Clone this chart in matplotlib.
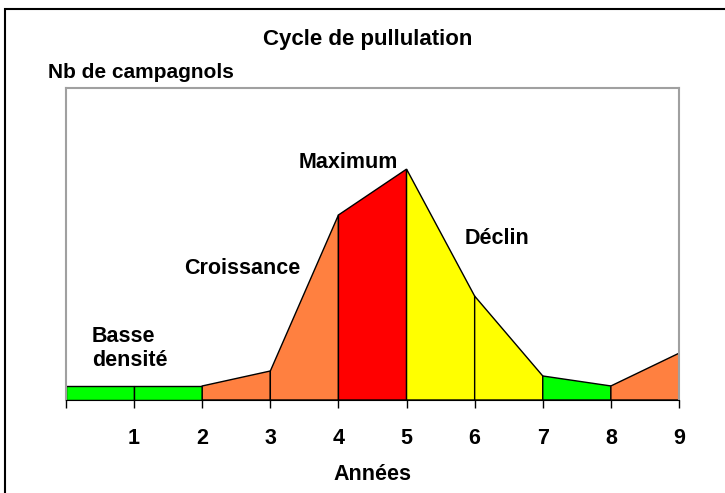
import matplotlib.pyplot as plt
from matplotlib.patches import Rectangle

plt.rcParams['font.family'] = ['Liberation Sans', 'DejaVu Sans']

# values (arbitrary units, axis 0..100)
years = [0, 1, 2, 3, 4, 5, 6, 7, 8, 9]
nb = [4.5, 4.5, 4.5, 9.3, 59.3, 74.0, 33.3, 7.7, 4.5, 15.0]
seg_colors = ['#00FF00', '#00FF00', '#FF8040', '#FF8040', '#FF0000',
              '#FFFF00', '#FFFF00', '#00FF00', '#FF8040']
tick_labels = ['', '1', '2', '3', '4', '5', '6', '7', '8', '9']

W, H = 725, 493
fs = 15.5

fig = plt.figure(figsize=(W / 100, H / 100), dpi=100)
ax = fig.add_axes([66 / W, 1 - 400 / H, 613 / W, 312 / H])

for i in range(len(years) - 1):
    xs = [years[i], years[i], years[i + 1], years[i + 1]]
    ys = [0, nb[i], nb[i + 1], 0]
    ax.fill(xs, ys, facecolor=seg_colors[i], edgecolor='black', linewidth=1)

ax.set_xlim(0, 9)
ax.set_ylim(0, 100)
ax.set_xticks(years)
ax.set_xticklabels(tick_labels, fontsize=fs, fontweight='bold')
ax.tick_params(axis='x', direction='out', length=6, width=1, pad=14)
ax.set_yticks([])
for s in ['left', 'top', 'right']:
    ax.spines[s].set_color('#a0a0a0')
    ax.spines[s].set_linewidth(1.5)
ax.spines['bottom'].set_color('black')


def ftext(px, py, s, size=fs, **kw):
    # place text by pixel position in the figure
    fig.text(px / W, 1 - py / H, s, fontsize=size, fontweight='bold', va='center', **kw)


ftext(368, 40, 'Cycle de pullulation', size=16, ha='center')
ftext(48, 72, 'Nb de campagnols', size=15, ha='left')
ftext(372, 475, 'Années', ha='center')
ftext(92, 336, 'Basse', ha='left')
ftext(92, 360, 'densité', ha='left')
ftext(242, 268, 'Croissance', ha='center')
ftext(348, 163, 'Maximum', ha='center')
ftext(497, 238, 'Déclin', ha='center')

fig.patches.append(Rectangle((5 / W, -0.1), 1.2, 1 - 9 / H + 0.1,
                             transform=fig.transFigure, fill=False,
                             edgecolor='black', linewidth=1.5))

fig.savefig('out.png', dpi=100)
